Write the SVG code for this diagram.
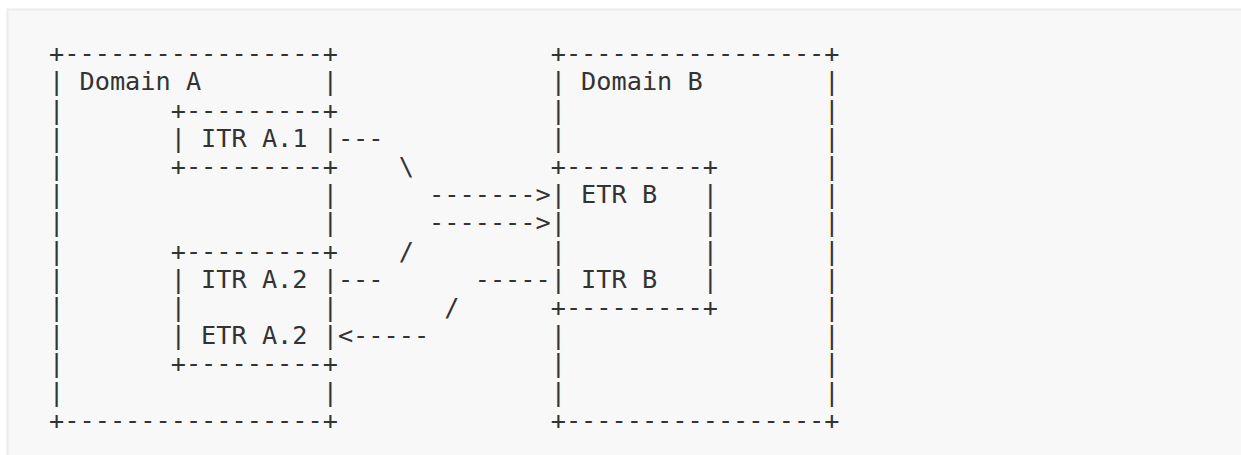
<svg xmlns="http://www.w3.org/2000/svg" width="1241" height="455" viewBox="0 0 1241 455">
<style>
.t{font-family:"DejaVu Sans Mono","Liberation Mono",monospace;font-size:25.25px;fill:#333333}
</style>
<rect x="0" y="0" width="1241" height="455" fill="#ffffff"/>
<rect x="7.5" y="9.5" width="1245" height="460" fill="#f8f8f8" stroke="#ebebeb" stroke-width="2"/>
<g id="domain-a" class="t">
<text x="49.1" y="62.1">+-----------------+</text>
<text x="49.1" y="90.3">| Domain A</text>
<text x="322.7" y="90.3">|</text>
<text x="49.1" y="118.5">|</text>
<text x="49.1" y="146.7">|</text>
<text x="49.1" y="174.9">|</text>
<text x="49.1" y="203.1">|</text>
<text x="322.7" y="203.1">|</text>
<text x="49.1" y="231.3">|</text>
<text x="322.7" y="231.3">|</text>
<text x="49.1" y="259.5">|</text>
<text x="49.1" y="287.7">|</text>
<text x="49.1" y="315.9">|</text>
<text x="49.1" y="344.1">|</text>
<text x="49.1" y="372.3">|</text>
<text x="49.1" y="400.5">|</text>
<text x="322.7" y="400.5">|</text>
<text x="49.1" y="428.7">+-----------------+</text>
</g>
<g id="itr-a1" class="t">
<text x="170.7" y="118.5">+---------+</text>
<text x="170.7" y="146.7">| ITR A.1 |</text>
<text x="170.7" y="174.9">+---------+</text>
</g>
<g id="itr-etr-a2" class="t">
<text x="170.7" y="259.5">+---------+</text>
<text x="170.7" y="287.7">| ITR A.2 |</text>
<text x="170.7" y="315.9">|</text>
<text x="322.7" y="315.9">|</text>
<text x="170.7" y="344.1">| ETR A.2 |</text>
<text x="170.7" y="372.3">+---------+</text>
</g>
<g id="domain-b" class="t">
<text x="550.7" y="62.1">+-----------------+</text>
<text x="550.7" y="90.3">| Domain B</text>
<text x="824.3" y="90.3">|</text>
<text x="550.7" y="118.5">|</text>
<text x="824.3" y="118.5">|</text>
<text x="550.7" y="146.7">|</text>
<text x="824.3" y="146.7">|</text>
<text x="824.3" y="174.9">|</text>
<text x="824.3" y="203.1">|</text>
<text x="824.3" y="231.3">|</text>
<text x="824.3" y="259.5">|</text>
<text x="824.3" y="287.7">|</text>
<text x="824.3" y="315.9">|</text>
<text x="550.7" y="344.1">|</text>
<text x="824.3" y="344.1">|</text>
<text x="550.7" y="372.3">|</text>
<text x="824.3" y="372.3">|</text>
<text x="550.7" y="400.5">|</text>
<text x="824.3" y="400.5">|</text>
<text x="550.7" y="428.7">+-----------------+</text>
</g>
<g id="etr-itr-b" class="t">
<text x="550.7" y="174.9">+---------+</text>
<text x="550.7" y="203.1">| ETR B</text>
<text x="702.7" y="203.1">|</text>
<text x="550.7" y="231.3">|</text>
<text x="702.7" y="231.3">|</text>
<text x="550.7" y="259.5">|</text>
<text x="702.7" y="259.5">|</text>
<text x="550.7" y="287.7">| ITR B</text>
<text x="702.7" y="287.7">|</text>
<text x="550.7" y="315.9">+---------+</text>
</g>
<g id="connectors" class="t">
<text x="337.9" y="146.7">---</text>
<text x="398.7" y="174.9">\</text>
<text x="429.1" y="203.1">-------&gt;</text>
<text x="429.1" y="231.3">-------&gt;</text>
<text x="398.7" y="259.5">/</text>
<text x="337.9" y="287.7">---</text>
<text x="474.7" y="287.7">-----</text>
<text x="444.3" y="315.9">/</text>
<text x="337.9" y="344.1">&lt;-----</text>
</g>
</svg>
